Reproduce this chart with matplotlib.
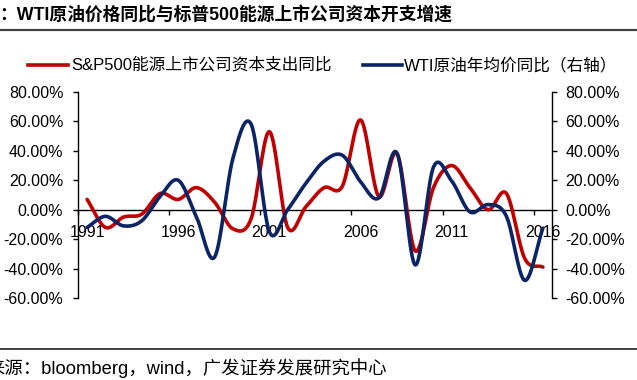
import numpy as np
import matplotlib
matplotlib.use("Agg")
import matplotlib.pyplot as plt
from matplotlib.lines import Line2D
from matplotlib.ticker import FixedLocator, FuncFormatter

plt.rcParams['font.family'] = ['Liberation Sans', 'Noto Sans CJK SC', 'DejaVu Sans']

years = list(range(1991, 2017))
sp500_capex = [7, -12, -5, -3, 11, 7, 15, 5, -13, -6, 53, -12, 2, 15, 16, 61, 9, 38,
               -28, 15, 30, 15, 0, 11, -33, -39]
wti_yoy = [-12, -4.5, -11, -7.5, 9, 20, -5, -32, 35, 58, -15, 0, 18, 33, 37, 19, 8, 38.5,
           -37.5, 29, 19.5, -1.5, 3.5, -4.5, -48, -12.5]
xtick_labels = ['1991', '1996', '2001', '2006', '2011', '2016']
yticks = [-60, -40, -20, 0, 20, 40, 60, 80]

title = '：WTI原油价格同比与标普500能源上市公司资本开支增速'
source = '来源：bloomberg，wind，广发证券发展研究中心'
legend_labels = ['S&P500能源上市公司资本支出同比', 'WTI原油年均价同比（右轴）']
red = '#C00000'
blue = '#0B2465'


def catmull_rom(x, y, n=30):
    x = np.asarray(x, float)
    y = np.asarray(y, float)
    xp = np.concatenate([[2 * x[0] - x[1]], x, [2 * x[-1] - x[-2]]])
    yp = np.concatenate([[2 * y[0] - y[1]], y, [2 * y[-1] - y[-2]]])
    xs, ys = [], []
    t = np.linspace(0, 1, n, endpoint=False)
    for i in range(1, len(xp) - 2):
        p0, p1, p2, p3 = yp[i - 1], yp[i], yp[i + 1], yp[i + 2]
        q0, q1, q2, q3 = xp[i - 1], xp[i], xp[i + 1], xp[i + 2]
        def cr(a0, a1, a2, a3):
            return 0.5 * ((2 * a1) + (-a0 + a2) * t + (2 * a0 - 5 * a1 + 4 * a2 - a3) * t ** 2
                          + (-a0 + 3 * a1 - 3 * a2 + a3) * t ** 3)
        xs.append(cr(q0, q1, q2, q3))
        ys.append(cr(p0, p1, p2, p3))
    xs.append([x[-1]])
    ys.append([y[-1]])
    return np.concatenate(xs), np.concatenate(ys)


W, H = 637, 380
fig = plt.figure(figsize=(W / 100, H / 100), dpi=100)
ax = fig.add_axes([78 / W, 1 - 298 / H, (552 - 78) / W, (298 - 92) / H])
ax2 = ax.twinx()

for a, pad in ((ax, 7), (ax2, 6)):
    a.set_xlim(1990.5, 2016.5)
    a.set_ylim(-60, 80)
    a.set_yticks(yticks)
    a.yaxis.set_major_formatter(FuncFormatter(lambda v, p: f'{v:.2f}%'))
    a.tick_params(axis='y', length=3.6, width=1, labelsize=11.5, pad=pad, colors='black')
    a.spines['top'].set_visible(False)
    a.patch.set_visible(False)

ax.spines['right'].set_visible(False)
ax2.spines['left'].set_visible(False)
ax2.spines['bottom'].set_visible(False)
ax.spines['bottom'].set_position(('data', 0))
ax.spines['left'].set_linewidth(1)
ax2.spines['right'].set_linewidth(1)
ax.spines['bottom'].set_linewidth(1)

ax.xaxis.set_major_locator(FixedLocator([1990.5, 1995.5, 2000.5, 2005.5, 2010.5, 2015.5]))
ax.xaxis.set_minor_locator(FixedLocator([int(s) for s in xtick_labels]))
ax.xaxis.set_major_formatter(FuncFormatter(lambda v, p: ''))
ax.xaxis.set_minor_formatter(FuncFormatter(lambda v, p: str(int(round(v)))))
ax.tick_params(axis='x', which='major', length=3.6, width=1, direction='out')
ax.tick_params(axis='x', which='minor', length=0, labelsize=11.5, pad=11)

xr, yr = catmull_rom(years, sp500_capex)
ax.plot(xr, yr, color=red, lw=2.6, solid_capstyle='round', zorder=3)
xb, yb = catmull_rom(years, wti_yoy)
ax2.plot(xb, yb, color=blue, lw=2.6, solid_capstyle='round', zorder=4)

# legend
ly = 1 - 65 / H
fig.add_artist(Line2D([28 / W, 68 / W], [ly, ly], color=red, lw=2.6))
fig.text(71 / W, ly, legend_labels[0], fontsize=12, va='center', ha='left')
fig.add_artist(Line2D([363 / W, 402 / W], [ly, ly], color=blue, lw=2.6))
fig.text(404 / W, ly, legend_labels[1], fontsize=12, va='center', ha='left')

# title and source
fig.text(-1 / W, 1 - 16 / H, title, fontsize=12.8, fontweight='bold', va='center', ha='left')
fig.add_artist(Line2D([0, 1], [1 - 30 / H, 1 - 30 / H], color='#404040', lw=1.6))
fig.add_artist(Line2D([0, 1], [1 - 349 / H, 1 - 349 / H], color='#404040', lw=1.4))
fig.text(-14 / W, 1 - 368 / H, source, fontsize=13.2, va='center', ha='left')

fig.savefig('out.png', dpi=100)
